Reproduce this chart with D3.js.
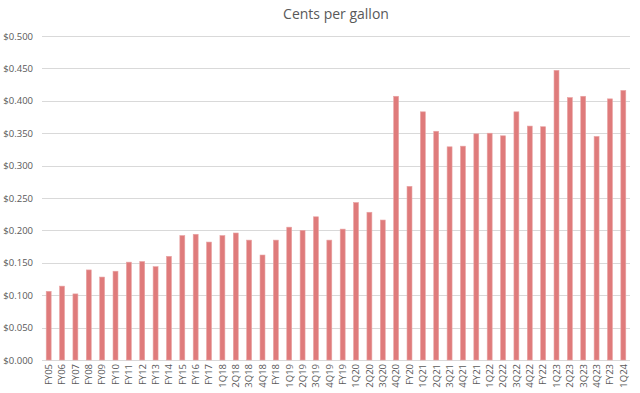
<!DOCTYPE html>
<html>
<head>
<meta charset="utf-8">
<script src="https://cdn.jsdelivr.net/npm/d3@7"></script>
<style>
  body { margin: 0; background: #fff; }
  svg text { font-family: "Open Sans", "Liberation Sans", sans-serif; fill: #595959; }
</style>
</head>
<body>
<svg id="chart" width="640" height="393"></svg>
<script>
const categories = ["FY05", "FY06", "FY07", "FY08", "FY09", "FY10", "FY11", "FY12", "FY13", "FY14",
  "FY15", "FY16", "FY17", "1Q18", "2Q18", "3Q18", "4Q18", "FY18", "1Q19", "2Q19", "3Q19", "4Q19",
  "FY19", "1Q20", "2Q20", "3Q20", "4Q20", "FY20", "1Q21", "2Q21", "3Q21", "4Q21", "FY21", "1Q22",
  "2Q22", "3Q22", "4Q22", "FY22", "1Q23", "2Q23", "3Q23", "4Q23", "FY23", "1Q24"];
const values = [0.106, 0.114, 0.102, 0.139, 0.128, 0.137, 0.151, 0.152, 0.144, 0.160,
  0.192, 0.194, 0.182, 0.192, 0.196, 0.185, 0.162, 0.185, 0.205, 0.200, 0.221, 0.185,
  0.202, 0.243, 0.228, 0.216, 0.407, 0.268, 0.383, 0.353, 0.329, 0.330, 0.349, 0.350,
  0.346, 0.383, 0.361, 0.360, 0.447, 0.405, 0.407, 0.345, 0.403, 0.416];
const yTicks = [0, 0.05, 0.1, 0.15, 0.2, 0.25, 0.3, 0.35, 0.4, 0.45, 0.5];

const margin = {top: 36, right: 10, bottom: 33, left: 42};
const width = 640, height = 393;

const svg = d3.select("#chart");

const x = d3.scaleBand()
  .domain(categories)
  .range([margin.left, width - margin.right])
  .paddingInner(0.63)
  .paddingOuter(0.315);

const y = d3.scaleLinear()
  .domain([0, 0.5])
  .range([height - margin.bottom, margin.top]);

// title
svg.append("text")
  .attr("x", 336)
  .attr("y", 19)
  .attr("text-anchor", "middle")
  .style("font-size", "14px")
  .text("Cents per gallon");

// gridlines
svg.append("g")
  .selectAll("line")
  .data(yTicks)
  .join("line")
  .attr("x1", margin.left)
  .attr("x2", width - margin.right)
  .attr("y1", d => Math.round(y(d)) + 0.5)
  .attr("y2", d => Math.round(y(d)) + 0.5)
  .attr("stroke", "#d9d9d9")
  .attr("stroke-width", 1);

// y axis labels
const yAxis = svg.append("g")
  .attr("transform", `translate(${margin.left - 9},0)`)
  .call(d3.axisLeft(y).tickValues(yTicks).tickSize(0).tickPadding(0)
    .tickFormat(d => "$" + d3.format(".3f")(d)));
yAxis.select(".domain").remove();
yAxis.selectAll("text")
  .style("font-size", "9.5px")
  .attr("fill", "#595959");

// bars
svg.append("g")
  .selectAll("rect")
  .data(values)
  .join("rect")
  .attr("x", (d, i) => x(categories[i]))
  .attr("y", d => y(d))
  .attr("width", x.bandwidth())
  .attr("height", d => y(0) - y(d))
  .attr("fill", "#df7b7b")
  .attr("stroke", "#e9a3a3")
  .attr("stroke-width", 0.6);

// x axis labels
const xAxis = svg.append("g")
  .attr("transform", `translate(0,${y(0)})`)
  .call(d3.axisBottom(x).tickSize(0).tickPadding(0));
xAxis.select(".domain").remove();
xAxis.selectAll("text")
  .style("font-size", "9.5px")
  .attr("fill", "#595959")
  .attr("text-anchor", "end")
  .attr("dy", "0.35em")
  .attr("transform", "translate(0,4) rotate(-90)");
</script>
</body>
</html>
